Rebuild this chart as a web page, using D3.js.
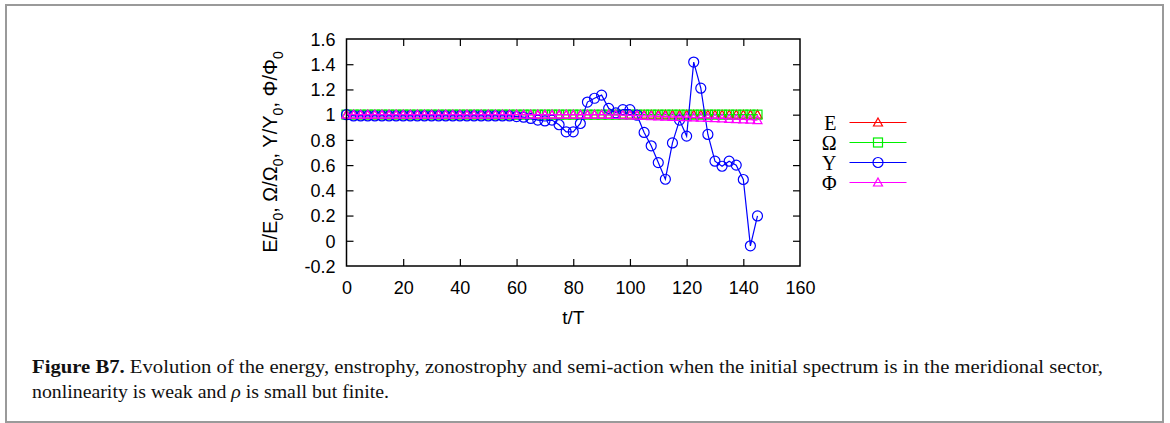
<!DOCTYPE html>
<html>
<head>
<meta charset="utf-8">
<script src="https://cdn.jsdelivr.net/npm/d3@7"></script>
<style>
  body { margin: 0; background: #fff; }
  svg { display: block; }
</style>
</head>
<body>
<div id="chart"></div>
<script>
// time axis, t/T
var tValues = [0, 2.5, 5, 7.5, 10, 12.5, 15, 17.5, 20, 22.5, 25, 27.5, 30, 32.5, 35, 37.5,
  40, 42.5, 45, 47.5, 50, 52.5, 55, 57.5, 60, 62.5, 65, 67.5, 70, 72.5, 75, 77.5,
  80, 82.5, 85, 87.5, 90, 92.5, 95, 97.5, 100, 102.5, 105, 107.5, 110, 112.5, 115, 117.5,
  120, 122.5, 125, 127.5, 130, 132.5, 135, 137.5, 140, 142.5, 145];

var energy = [1, 1, 1, 1, 1, 1, 1, 1, 1, 1, 1, 1, 1, 1, 1, 1,
  1, 1, 1, 1, 1, 1, 1, 1, 1, 1, 1, 1, 1, 1, 1, 1,
  1, 1, 1, 1, 1, 1, 1, 1, 1, 1, 1, 1, 1, 1, 1, 1,
  1, 1, 1, 1, 1, 1, 1, 1, 1, 1, 1];

var enstrophy = [1, 1, 1, 1, 1, 1, 1, 1, 1, 1, 1, 1, 1, 1, 1, 1,
  1, 1, 1, 1, 1, 1, 1, 1, 1, 1, 1, 1, 1, 1, 1, 1,
  1, 1, 1, 1, 1, 1, 1, 1, 1, 1, 1, 1, 1, 1, 1, 1,
  1, 1, 1, 1, 1, 1, 1, 1, 1, 1, 1];

var zonostrophy = [1, 0.99, 0.99, 0.99, 0.99, 0.99, 0.99, 0.99, 0.99, 0.99, 0.99, 0.99, 0.99, 0.99, 0.99, 0.99,
  0.99, 0.99, 0.99, 0.99, 0.99, 0.99, 0.99, 0.99, 0.985, 0.98, 0.97, 0.957, 0.95, 0.957, 0.92, 0.864,
  0.864, 0.93, 1.10, 1.13, 1.155, 1.05, 1.014, 1.04, 1.04, 0.996, 0.859, 0.753, 0.62, 0.488, 0.776, 0.957,
  0.83, 1.417, 1.21, 0.843, 0.631, 0.591, 0.631, 0.6, 0.486, -0.04, 0.197];

var semiAction = [1, 1, 1, 1, 1, 1, 1, 1, 1, 1, 1, 1, 1, 1, 1, 1,
  1, 1, 1, 1, 1, 1, 1, 1, 1, 1, 1, 1, 1, 1, 1, 1,
  1, 1, 1, 1, 1, 0.999, 0.998, 0.996, 0.995, 0.993, 0.99, 0.989, 0.987, 0.985, 0.983, 0.982,
  0.98, 0.978, 0.977, 0.975, 0.972, 0.97, 0.967, 0.965, 0.962, 0.96, 0.957];

var xTicks = [0, 20, 40, 60, 80, 100, 120, 140, 160];
var yTicks = [-0.2, 0, 0.2, 0.4, 0.6, 0.8, 1, 1.2, 1.4, 1.6];

var series = [
  { name: "E", values: energy, color: "#ff0000", marker: "triangle" },
  { name: "\u03A9", values: enstrophy, color: "#00ee00", marker: "square" },
  { name: "\u03A5", values: zonostrophy, color: "#0000ff", marker: "circle" },
  { name: "\u03A6", values: semiAction, color: "#ff00ff", marker: "triangle" }
];

var W = 1170, H = 423;
var margin = { top: 39, right: 370, bottom: 157, left: 346.5 },
    width = W - margin.left - margin.right,
    height = H - margin.top - margin.bottom;

var root = d3.select("#chart").append("svg")
    .attr("width", W)
    .attr("height", H);

// figure frame
root.append("rect")
    .attr("x", 6).attr("y", 5)
    .attr("width", 1157).attr("height", 417)
    .attr("fill", "none")
    .attr("stroke", "#9a9a9a")
    .attr("stroke-width", 2);

var svg = root.append("g")
    .attr("transform", "translate(" + margin.left + "," + margin.top + ")");

var x = d3.scaleLinear().domain([0, 160]).range([0, width]);
var y = d3.scaleLinear().domain([-0.2, 1.6]).range([height, 0]);

var tickFont = "'Liberation Sans', Arial, sans-serif";

// ticks inside, mirrored like gnuplot
var tk = 7;
var xAxisB = svg.append("g").attr("transform", "translate(0," + height + ")")
    .call(d3.axisBottom(x).tickValues(xTicks).tickSize(-tk).tickPadding(tk + 8).tickFormat(d3.format("d")));
var xAxisT = svg.append("g")
    .call(d3.axisTop(x).tickValues(xTicks).tickSize(-tk).tickFormat(""));
var yAxisL = svg.append("g")
    .call(d3.axisLeft(y).tickValues(yTicks).tickSize(-tk).tickPadding(tk + 4)
      .tickFormat(function (d) { return String(+d.toFixed(1)); }));
var yAxisR = svg.append("g").attr("transform", "translate(" + width + ",0)")
    .call(d3.axisRight(y).tickValues(yTicks).tickSize(-tk).tickFormat(""));

[xAxisB, xAxisT, yAxisL, yAxisR].forEach(function (a) {
  a.select(".domain").remove();
  a.selectAll(".tick line").attr("stroke", "#000").attr("stroke-width", 1.2);
  a.selectAll("text").attr("font-family", tickFont).attr("font-size", 18).attr("fill", "#000");
});
xAxisB.selectAll(".tick line").filter(function (d) { return d === 0 || d === 160; }).remove();
xAxisT.selectAll(".tick line").filter(function (d) { return d === 0 || d === 160; }).remove();
yAxisL.selectAll(".tick line").filter(function (d) { return d === -0.2 || d === 1.6; }).remove();
yAxisR.selectAll(".tick line").filter(function (d) { return d === -0.2 || d === 1.6; }).remove();
yAxisL.selectAll("text").attr("dy", "0.35em");

function drawMarker(g, type, color, cx, cy) {
  if (type === "circle") {
    g.append("circle").attr("cx", cx).attr("cy", cy).attr("r", 5)
      .attr("fill", "none").attr("stroke", color).attr("stroke-width", 1.2);
  } else if (type === "square") {
    g.append("rect").attr("x", cx - 4.5).attr("y", cy - 4.5).attr("width", 9).attr("height", 9)
      .attr("fill", "none").attr("stroke", color).attr("stroke-width", 1.2);
  } else {
    g.append("path")
      .attr("d", "M" + cx + "," + (cy - 4.5) + "L" + (cx + 4.5) + "," + (cy + 3.5) + "L" + (cx - 4.5) + "," + (cy + 3.5) + "Z")
      .attr("fill", "none").attr("stroke", color).attr("stroke-width", 1.2);
  }
}

var line = d3.line()
    .x(function (d) { return x(d[0]); })
    .y(function (d) { return y(d[1]); });

var plot = svg.append("g");
series.forEach(function (s) {
  var pts = tValues.map(function (t, i) { return [t, s.values[i]]; });
  var g = plot.append("g");
  g.append("path").datum(pts)
    .attr("d", line)
    .attr("fill", "none")
    .attr("stroke", s.color)
    .attr("stroke-width", 1.2);
  pts.forEach(function (p) { drawMarker(g, s.marker, s.color, x(p[0]), y(p[1])); });
});

// frame
svg.append("rect")
    .attr("width", width).attr("height", height)
    .attr("fill", "none").attr("stroke", "#000").attr("stroke-width", 1.5);

// legend
var legend = svg.append("g").attr("transform", "translate(" + (836.5 - margin.left) + "," + (122.5 - margin.top) + ")");
series.forEach(function (s, i) {
  var row = legend.append("g").attr("transform", "translate(0," + i * 20 + ")");
  row.append("text").attr("x", 0).attr("y", 0).attr("dy", "0.35em")
    .attr("text-anchor", "end")
    .attr("font-family", "'Liberation Serif', 'Times New Roman', serif")
    .attr("font-size", 20)
    .text(s.name);
  row.append("line").attr("x1", 13).attr("x2", 70).attr("y1", 0).attr("y2", 0)
    .attr("stroke", s.color).attr("stroke-width", 1.2);
  drawMarker(row, s.marker, s.color, 41.5, 0);
});

// axis titles
svg.append("text")
    .attr("x", width / 2).attr("y", 324 - margin.top)
    .attr("text-anchor", "middle")
    .attr("font-family", tickFont).attr("font-size", 19)
    .text("t/T");

var ylab = svg.append("text")
    .attr("transform", "translate(" + (277 - margin.left) + "," + (152 - margin.top) + ") rotate(-90)")
    .attr("text-anchor", "middle")
    .attr("font-family", tickFont).attr("font-size", 20);
var parts = [["E/E", "0", ", "], ["\u03A9/\u03A9", "0", ", "], ["\u03A5/\u03A5", "0", ", "], ["\u03A6/\u03A6", "0", ""]];
parts.forEach(function (p) {
  ylab.append("tspan").text(p[0]);
  ylab.append("tspan").attr("dy", 6).attr("font-size", 14).text(p[1]);
  ylab.append("tspan").attr("dy", -6).text(p[2]);
});

// caption
var capFont = "'Liberation Serif', 'Times New Roman', serif";
var cap = root.append("text")
    .attr("x", 32).attr("y", 373)
    .attr("font-family", capFont)
    .attr("font-size", 19).attr("fill", "#111")
    .attr("textLength", 1071).attr("lengthAdjust", "spacingAndGlyphs");
cap.append("tspan").attr("font-weight", "bold").text("Figure B7.");
cap.append("tspan").text(" Evolution of the energy, enstrophy, zonostrophy and semi-action when the initial spectrum is in the meridional sector,");
var cap2 = root.append("text")
    .attr("x", 32).attr("y", 398)
    .attr("font-family", capFont)
    .attr("font-size", 19).attr("fill", "#111")
    .attr("textLength", 357).attr("lengthAdjust", "spacingAndGlyphs");
cap2.append("tspan").text("nonlinearity is weak and ");
cap2.append("tspan").attr("font-style", "italic").text("\u03C1");
cap2.append("tspan").text(" is small but finite.");
</script>
</body>
</html>
